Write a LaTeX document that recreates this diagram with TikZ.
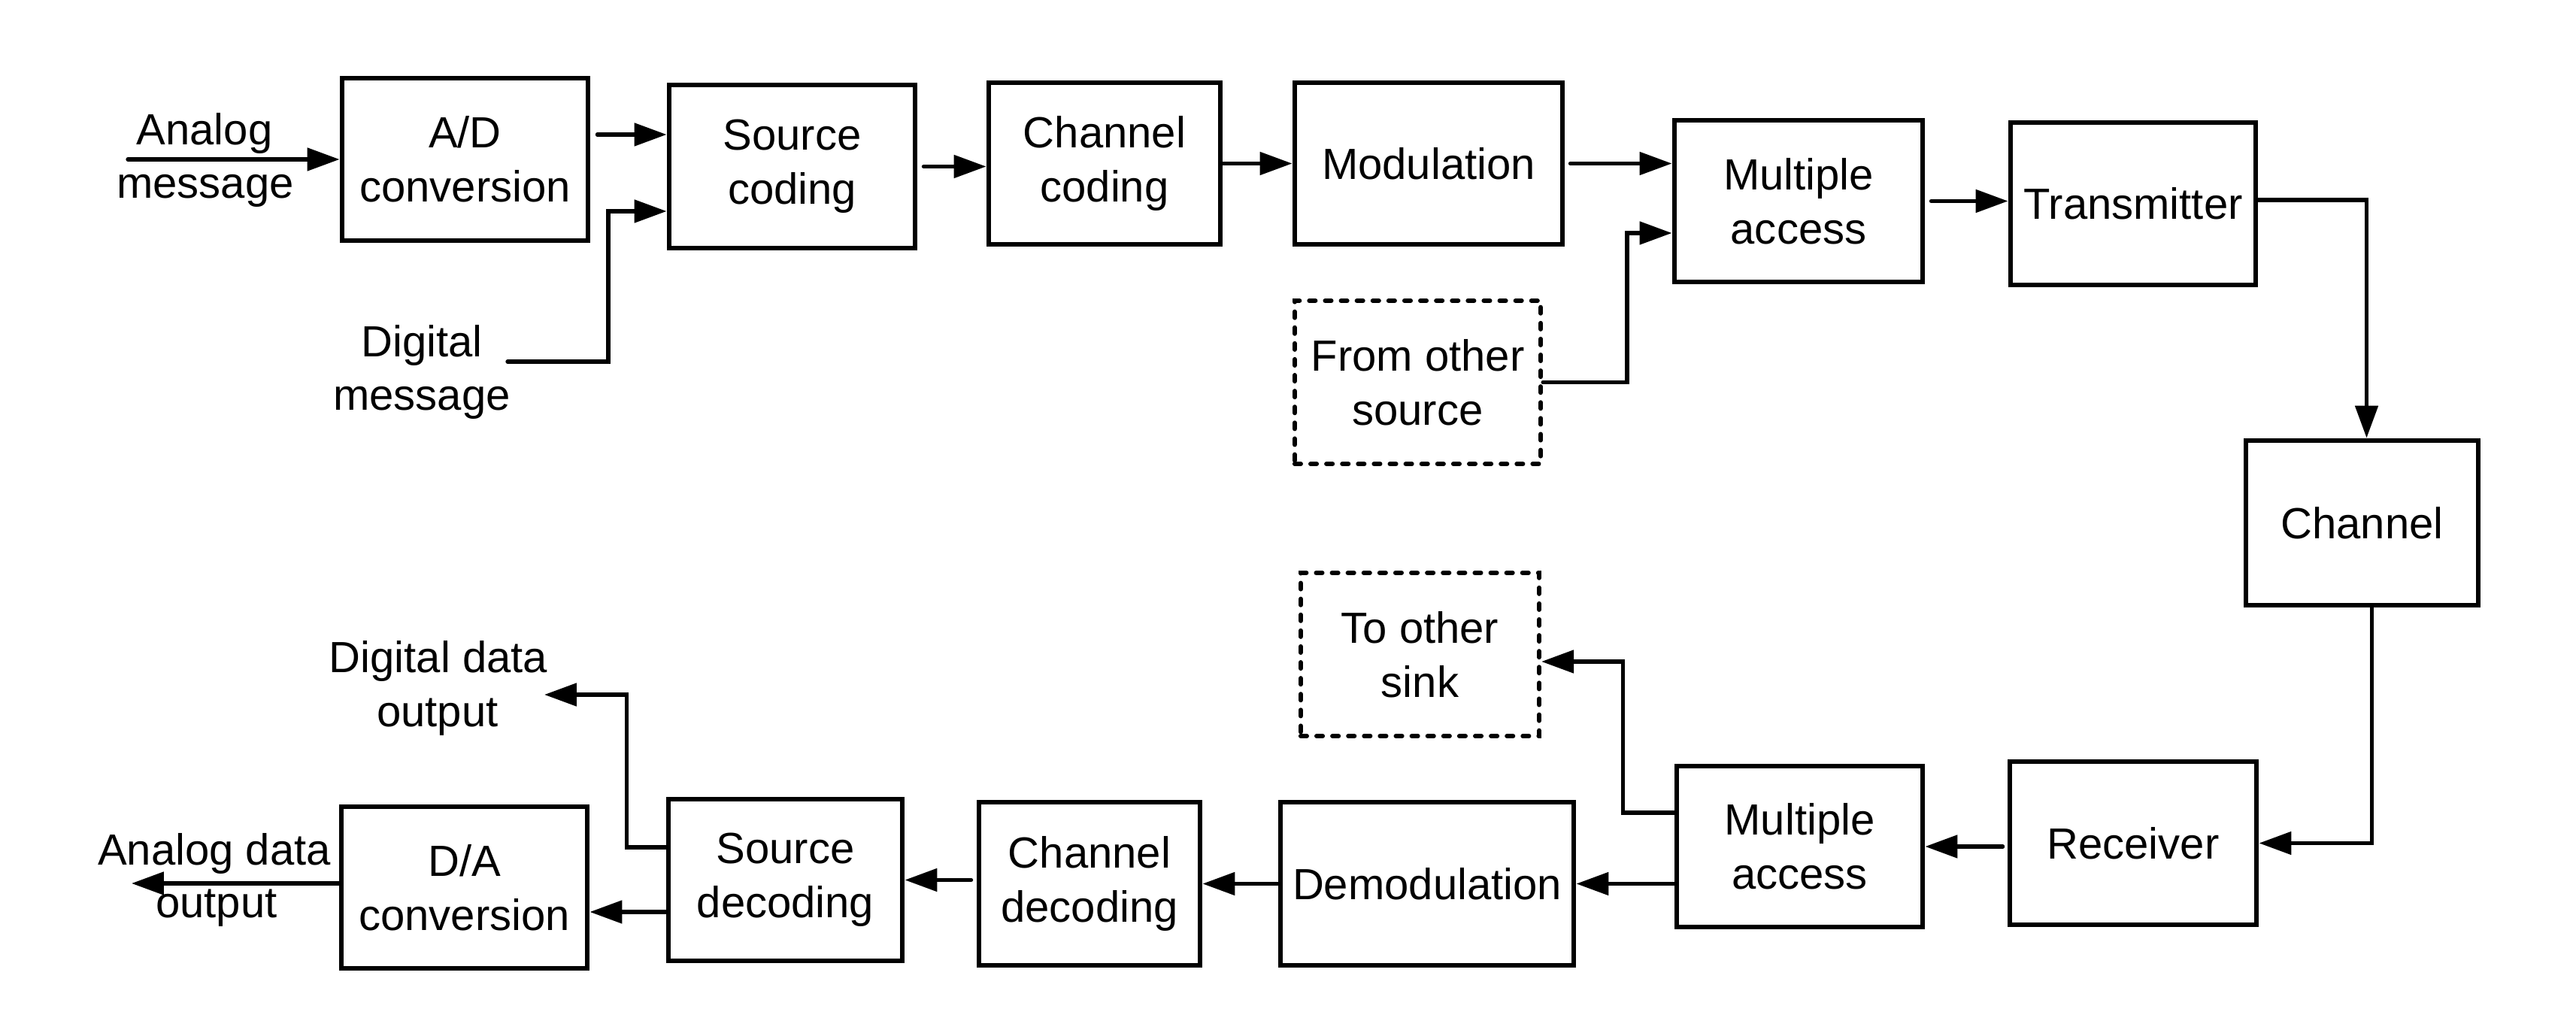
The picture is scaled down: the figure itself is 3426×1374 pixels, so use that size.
\documentclass[tikz,border=0pt]{standalone}
\usepackage{fontspec}
\setmainfont{Liberation Sans}
\usetikzlibrary{arrows.meta,calc}
\begin{document}
\begin{tikzpicture}[x=0.01cm,y=-0.01cm,
  txt/.style={font=\fontsize{16.5}{20.5}\selectfont, align=center, inner sep=0pt},
  box/.style={txt, draw, line width=1.9pt, line join=miter, minimum width=3.27cm, minimum height=2.16cm},
  dbox/.style={txt, draw, line width=1.7pt, line cap=round, dash pattern=on 2.3pt off 3.7pt, minimum width=3.27cm, minimum height=2.17cm},
  lbl/.style={txt, anchor=base},
  arr/.style={line width=1.5pt, line cap=round, line join=miter, -{Triangle[length=12.2pt,width=8.5pt]}}]
\useasboundingbox (0,0) rectangle (3426,1374);
% top row
\node[box] (AD) at (618.5,212) {A/D\\conversion};
\node[box, minimum height=2.17cm] (SC) at (1053.5,221.5) {Source\\coding};
\node[box, minimum width=3.08cm, minimum height=2.15cm] (CC) at (1469,217.5) {Channel\\coding};
\node[box, minimum width=3.56cm, minimum height=2.15cm] (MOD) at (1900,217.5) {Modulation};
\node[box, minimum width=3.30cm, minimum height=2.15cm] (MA1) at (2392,267.5) {Multiple\\access};
\node[box, minimum width=3.26cm] (TX) at (2837,271) {Transmitter};
\node[box, minimum width=3.09cm, minimum height=2.19cm] (CH) at (3141.5,695.5) {Channel};
\node[dbox] (FOS) at (1885.5,508.5) {From other\\source};
% bottom row
\node[box, minimum width=3.28cm, minimum height=2.17cm] (RX) at (2837,1121.5) {Receiver};
\node[box, minimum height=2.14cm] (MA2) at (2393.5,1126) {Multiple\\access};
\node[dbox, minimum width=3.17cm] (TOS) at (1888.5,870.5) {To other\\sink};
\node[box, minimum width=3.90cm, minimum height=2.17cm] (DEM) at (1898,1175.5) {Demodulation};
\node[box, minimum width=2.94cm, minimum height=2.17cm] (CD) at (1449,1175.5) {Channel\\decoding};
\node[box, minimum width=3.11cm, minimum height=2.15cm] (SD) at (1044.5,1170.5) {Source\\decoding};
\node[box, minimum height=2.15cm] (DA) at (617.5,1180.5) {D/A\\conversion};
% free labels
\node[lbl] (lam1) at (272,193) {Analog};
\node[lbl] (lam2) at (273,264) {message};
\node[lbl] (ldm1) at (561,475) {Digital};
\node[lbl] (ldm2) at (561,546) {message};
\node[lbl] (ldd1) at (583,895) {Digital data};
\node[lbl] (ldd2) at (582,967) {output};
\node[lbl] (lad1) at (285,1151) {Analog data};
\node[lbl] (lad2) at (288,1221) {output};
% free ends
\coordinate (am) at (170,212);
\coordinate (dm) at (675,481);
\coordinate (ddo) at (724,924);
\coordinate (ado) at (175,1175);
% connectors top
\draw[arr] (am) -- (AD.west);
\draw[arr] ($(AD.east |- 0,179)+(9,0)$) -- (SC.west |- 0,179);
\draw[arr] (dm) -- ++(134,0) |- (SC.west |- 0,281);
\draw[arr] ($(SC.east)+(8,0)$) -- (CC.west |- SC.east);
\draw[arr] (CC.east) -- (MOD.west);
\draw[arr] ($(MOD.east)+(7,0)$) -- (MA1.west |- MOD.east);
\draw[arr] (FOS.east) -- ++(112,0) |- (MA1.west |- 0,310);
\draw[arr] ($(MA1.east)+(8,0)$) -- (TX.west |- MA1.east);
\draw[arr] (TX.east |- 0,266) -| ($(CH.north)+(6,0)$);
\draw[arr] ($(CH.south)+(13,0)$) |- (RX.east);
% connectors bottom
\draw[arr] ($(RX.west |- MA2.east)+(-6,0)$) -- (MA2.east);
\draw[arr] (MA2.west |- 0,1081) -- ++(-68,0) |- (TOS.east |- 0,880);
\draw[arr] (MA2.west |- DEM.east) -- (DEM.east);
\draw[arr] (DEM.west) -- (CD.east);
\draw[arr] ($(CD.west |- SD.east)+(-7,0)$) -- (SD.east);
\draw[arr] (SD.west |- 0,1213) -- (DA.east |- 0,1213);
\draw[arr] (SD.west |- 0,1127) -- ++(-52,0) |- (ddo);
\draw[arr] (DA.west |- ado) -- (ado);
\end{tikzpicture}
\end{document}
